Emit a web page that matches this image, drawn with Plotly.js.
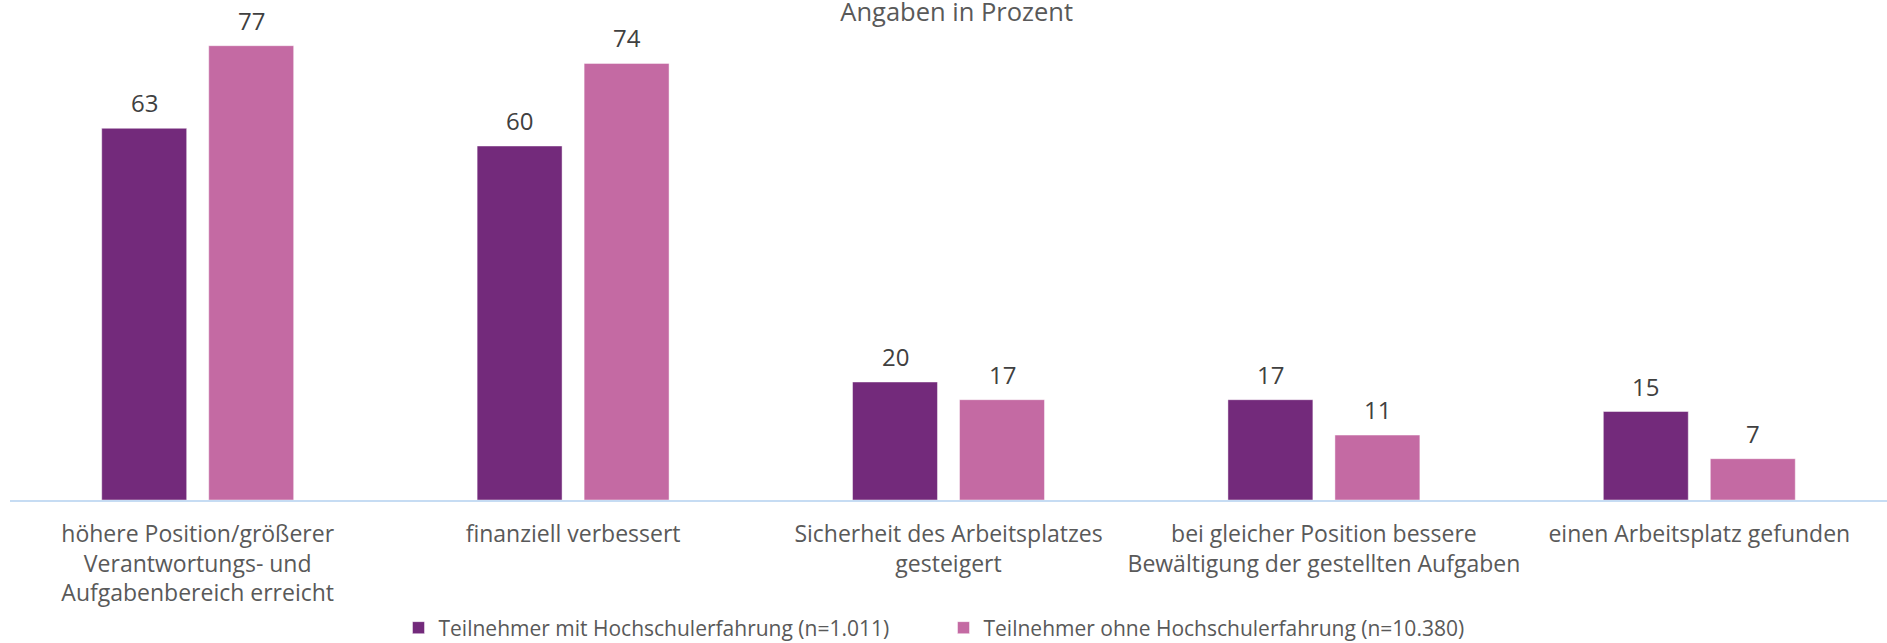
<!DOCTYPE html>
<html>
<head>
<meta charset="utf-8">
<script src="https://cdn.plot.ly/plotly-3.0.1.min.js"></script>
<style>html,body{margin:0;padding:0;background:#fff;}#chart{width:1887px;height:643px;}</style>
</head>
<body>
<div id="chart"></div>
<script>
const categories = [
  "höhere Position/größerer<br>Verantwortungs- und<br>Aufgabenbereich erreicht",
  "finanziell verbessert",
  "Sicherheit des Arbeitsplatzes<br>gesteigert",
  "bei gleicher Position bessere<br>Bewältigung der gestellten Aufgaben",
  "einen Arbeitsplatz gefunden"
];
const seriesNames = [
  "Teilnehmer mit Hochschulerfahrung (n=1.011)",
  "Teilnehmer ohne Hochschulerfahrung (n=10.380)"
];
const withUni = [63, 60, 20, 17, 15];
const withoutUni = [77, 74, 17, 11, 7];
const chartTitle = "Angaben in Prozent";

const colors = ["#732A7B", "#C46AA3"];
const font = "'Open Sans', 'Noto Sans', sans-serif";

const traces = [withUni, withoutUni].map((vals, i) => ({
  type: "bar",
  name: seriesNames[i],
  x: categories,
  y: vals,
  marker: {color: colors[i], line: {color: "rgba(255,255,255,0.45)", width: 1}},
  hoverinfo: "x+y"
}));

const annotations = [];
[withUni, withoutUni].forEach((vals, i) => {
  vals.forEach((v, j) => {
    annotations.push({
      x: categories[j], y: v, xref: "x", yref: "y",
      text: String(v), showarrow: false,
      xshift: i === 0 ? -53.5 : 53.5, yshift: 7,
      yanchor: "bottom", xanchor: "center",
      font: {family: font, size: 24, color: "#404040"}
    });
  });
});

const layout = {
  width: 1887, height: 643,
  margin: {l: 10, r: 0, t: 28, b: 143, autoexpand: false},
  paper_bgcolor: "#fff", plot_bgcolor: "#fff",
  title: {text: chartTitle, x: 0.507, xanchor: "center", y: 1 - 12.5/643, yref: "container", yanchor: "middle",
          font: {family: font, size: 25.5, color: "#595959"}},
  barmode: "group", bargap: 0.43, bargroupgap: 0.206,
  xaxis: {
    showline: true, linecolor: "#C6DCF3", linewidth: 2,
    ticks: "", showgrid: false, zeroline: false, automargin: false,
    tickfont: {family: font, size: 23, color: "#595959"},
    ticklabelstandoff: 12, fixedrange: true
  },
  yaxis: {range: [0, 80], visible: false, showgrid: false, zeroline: false, fixedrange: true},
  showlegend: true,
  legend: {orientation: "h", x: 0.5, xanchor: "center", xref: "container",
           y: 1 - 628/643, yanchor: "middle", yref: "container",
           font: {family: font, size: 21, color: "#595959"}, itemwidth: 30, entrywidth: 500, traceorder: "normal"},
  annotations: annotations
};

Plotly.newPlot("chart", traces, layout, {displayModeBar: false, staticPlot: false});
</script>
</body>
</html>
